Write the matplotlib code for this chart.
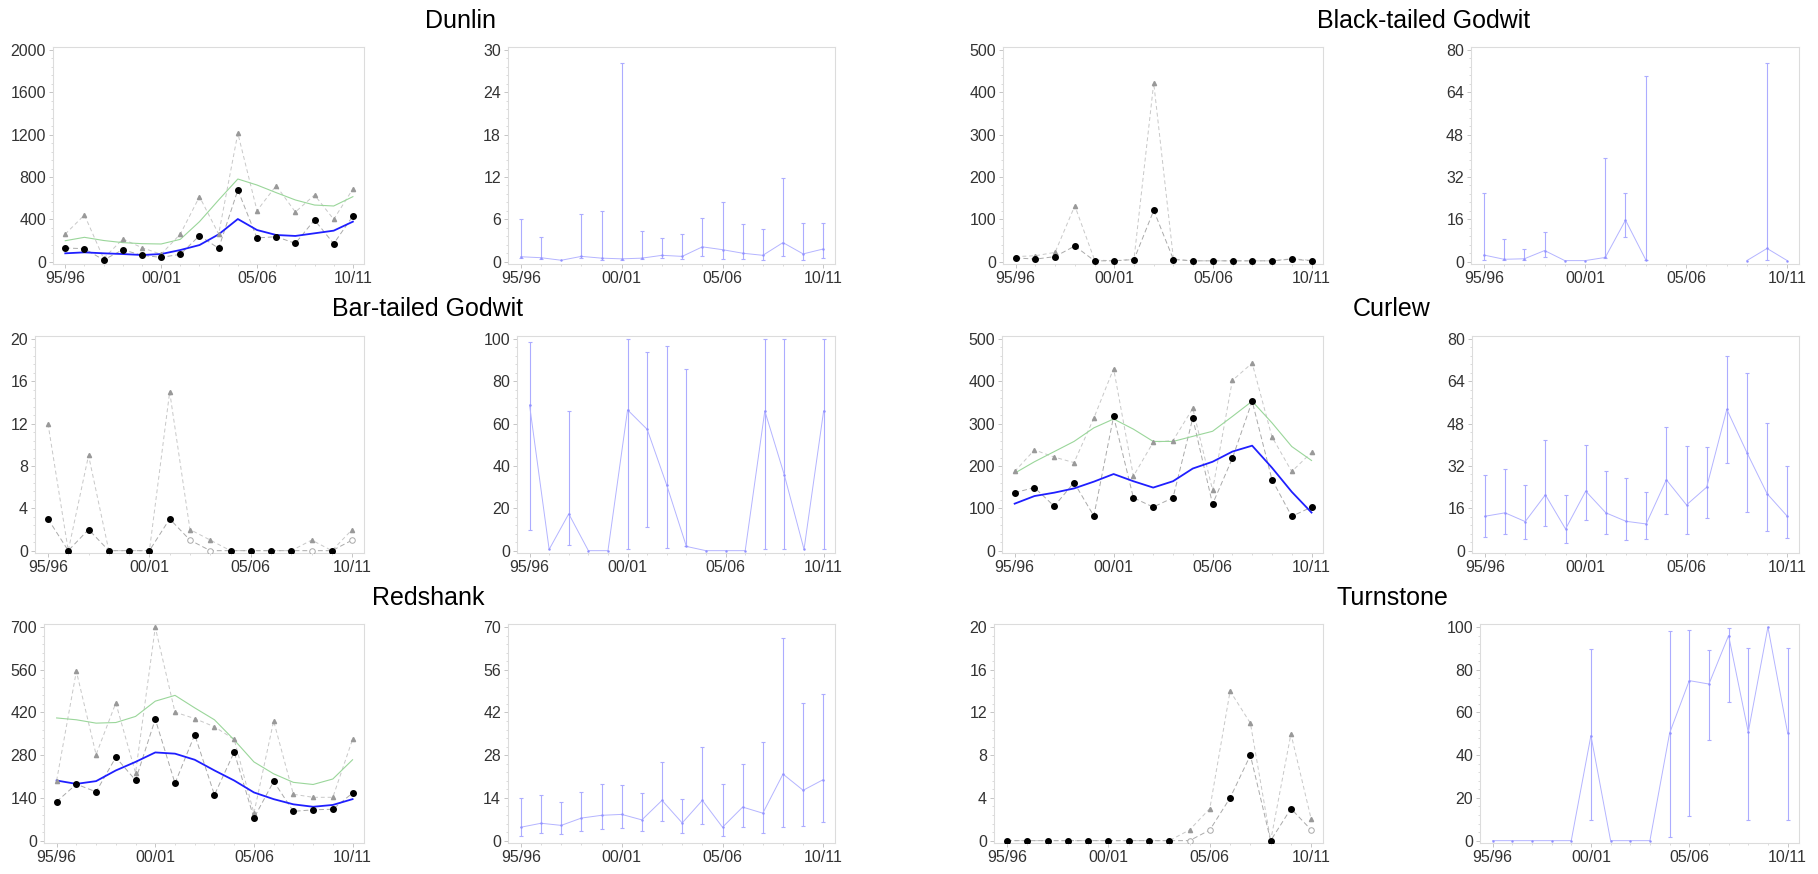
import matplotlib.pyplot as plt
import numpy as np
from matplotlib.ticker import MultipleLocator, AutoMinorLocator

plt.rcParams['font.family'] = ['Liberation Sans', 'DejaVu Sans']

nan = np.nan
seasons = np.arange(16)
season_ticks = [0, 5, 10, 15]
season_labels = ['95/96', '00/01', '05/06', '10/11']

# ---- Dunlin
dunlin_count = [129, 123, 16, 113, 60, 41, 69, 246, 126, 677, 224, 236, 173, 394, 170, 431]
dunlin_max = [261, 441, 30, 214, 132, 70, 261, 614, 261, 1213, 482, 718, 469, 630, 400, 687]
dunlin_max_smooth = [198, 230, 200, 180, 170, 167, 211, 378, 583, 781, 724, 652, 583, 535, 526, 614]
dunlin_count_smooth = [79, 88, 79, 72, 63, 72, 110, 157, 258, 403, 299, 252, 243, 268, 293, 378]
dunlin_pct = [0.7, 0.56, 0.2, 0.75, 0.5, 0.4, 0.5, 0.9, 0.75, 2.1, 1.7, 1.2, 0.9, 2.7, 1.1, 1.8]
dunlin_pct_lo = [0.5, 0.4, nan, 0.5, 0.3, 0.3, 0.4, 0.5, 0.4, 0.8, 0.4, 0.4, 0.3, 0.8, 0.3, 0.5]
dunlin_pct_hi = [6.1, 3.5, nan, 6.8, 7.2, 28.1, 4.3, 3.4, 3.9, 6.25, 8.5, 5.3, 4.65, 11.9, 5.5, 5.5]

# ---- Black-tailed Godwit
btgodwit_count = [9, 6, 12, 37, 2, 2, 5, 121, 5, 2, 2, 2, 2, 2, 6, 2]
btgodwit_max = [12, 14, 22, 132, 4, 2, 6, 422, 6, 2, 2, 2, 2, 2, 7, 3]
btgodwit_pct = [2.5, 0.9, 1.1, 4.2, 0.4, 0.4, 1.6, 15.7, 0.75, nan, nan, nan, nan, 0.4, 5.0, 0.4]
btgodwit_pct_lo = [0.6, 0.6, 0.8, 1.8, nan, nan, 1.2, 9.3, 0.6, nan, nan, nan, nan, nan, 0.6, nan]
btgodwit_pct_hi = [25.8, 8.4, 4.9, 11.3, nan, nan, 39.0, 25.8, 70.0, nan, nan, nan, nan, nan, 75.0, nan]

# ---- Bar-tailed Godwit
bargodwit_count = [3, 0, 2, 0, 0, 0, 3, 1, 0, 0, 0, 0, 0, 0, 0, 1]
bargodwit_open = [7, 8, 13, 15]
bargodwit_max = [12, 0, 9, 0, 0, 0, 15, 2, 1, 0, 0, 0, 0, 1, 0, 2]
bargodwit_pct = [68.8, 0.6, 17.4, 0, 0, 66.5, 57.3, 30.9, 2.0, 0, 0, 0, 66.0, 35.6, 0.6, 66.0]
bargodwit_pct_lo = [9.8, nan, 2.8, nan, nan, 0.6, 11.4, 1.3, 2.0, nan, nan, nan, 0.6, 0.6, nan, 0.6]
bargodwit_pct_hi = [98.4, nan, 66.0, nan, nan, 100, 93.7, 96.5, 86.0, nan, nan, nan, 100, 100, nan, 100]

# ---- Curlew
curlew_count = [137, 149, 105, 161, 82, 317, 125, 103, 125, 313, 110, 218, 353, 168, 81, 103]
curlew_max = [187, 238, 221, 208, 313, 430, 176, 256, 260, 336, 143, 402, 443, 269, 187, 232]
curlew_max_smooth = [183, 210, 234, 258, 290, 311, 287, 258, 258, 270, 282, 317, 353, 302, 246, 213]
curlew_count_smooth = [111, 129, 137, 147, 163, 181, 164, 149, 164, 194, 210, 234, 248, 196, 139, 90]
curlew_pct = [13, 14.3, 11, 21.1, 8.2, 22.5, 14.3, 11.1, 10.1, 26.8, 17.3, 24, 53.4, 37, 21.5, 13]
curlew_pct_lo = [5.3, 6.2, 4.3, 9.2, 2.9, 11.6, 6.2, 3.9, 4.4, 13.9, 6.3, 12.3, 33.2, 14.8, 7.3, 4.8]
curlew_pct_hi = [28.5, 30.8, 24.8, 42, 21.1, 40.1, 30.1, 27.5, 22, 46.6, 39.6, 39, 73.7, 67.1, 48.4, 31.9]

# ---- Redshank
redshank_count = [128, 185, 160, 273, 198, 398, 188, 347, 150, 290, 74, 194, 96, 101, 103, 156]
redshank_max = [197, 555, 282, 451, 222, 699, 421, 400, 373, 332, 90, 392, 152, 142, 142, 332]
redshank_max_smooth = [402, 396, 385, 387, 407, 457, 476, 435, 396, 330, 258, 219, 191, 184, 202, 265]
redshank_count_smooth = [197, 186, 195, 230, 258, 289, 285, 265, 230, 197, 158, 136, 119, 111, 117, 136]
redshank_pct = [4.4, 5.7, 5.0, 7.4, 8.3, 8.6, 6.8, 13.2, 5.8, 13.2, 4.4, 11, 9, 21.8, 16.5, 20]
redshank_pct_lo = [1.5, 2.4, 2.2, 3.3, 3.9, 4.1, 3.0, 6.6, 2.4, 5.3, 1.4, 4.4, 2.4, 4.4, 4.7, 6.0]
redshank_pct_hi = [14, 14.9, 12.6, 16.1, 18.7, 18.2, 15.7, 25.8, 13.8, 30.6, 18.5, 25, 32.3, 66.4, 45.2, 48]

# ---- Turnstone
turnstone_count = [0, 0, 0, 0, 0, 0, 0, 0, 0, 0, 1, 4, 8, 0, 3, 1]
turnstone_open = [9, 10, 15]
turnstone_max = [0, 0, 0, 0, 0, 0, 0, 0, 0, 1, 3, 14, 11, 0, 10, 2]
turnstone_pct = [0, 0, 0, 0, 0, 49.2, 0, 0, 0, 50.3, 74.9, 73.3, 96, 50.8, 100, 50.5]
turnstone_pct_lo = [nan, nan, nan, nan, nan, 9.8, nan, nan, nan, 1.9, 11.4, 47.1, 65, 9.8, nan, 9.8]
turnstone_pct_hi = [nan, nan, nan, nan, nan, 89.7, nan, nan, nan, 98, 98.4, 89.4, 99.7, 90, nan, 90]

W, H = 1818, 874
fig = plt.figure(figsize=(W / 100, H / 100), dpi=100)


def make_ax(left, right, top, bottom):
    return fig.add_axes([left / W, 1 - bottom / H, (right - left) / W, (bottom - top) / H])


def style(ax, ymax, ystep):
    ax.set_xlim(-0.64, 15.58)
    ax.set_ylim(-0.011 * ymax, 1.014 * ymax)
    ax.set_xticks(season_ticks)
    ax.set_xticklabels(season_labels)
    ax.xaxis.set_minor_locator(MultipleLocator(1))
    ax.yaxis.set_major_locator(MultipleLocator(ystep))
    ax.yaxis.set_minor_locator(AutoMinorLocator(5))
    for s in ax.spines.values():
        s.set_color('#dcdcdc')
        s.set_linewidth(0.8)
    ax.tick_params(which='major', length=3, width=0.6, color='#bbbbbb',
                   labelsize=11.5, labelcolor='#333333', pad=2)
    ax.tick_params(which='minor', length=1.5, width=0.5, color='#cccccc')


def counts_panel(ax, count, mx, ymax, ystep, mx_smooth=None, cnt_smooth=None, open_idx=()):
    ax.plot(seasons, mx, color='#c8c8c8', lw=0.7, ls=(0, (4, 3)), zorder=2)
    ax.plot(seasons, count, color='#aaaaaa', lw=0.7, ls=(0, (5, 3)), zorder=2)
    if mx_smooth is not None:
        ax.plot(seasons, mx_smooth, color='#9ad69a', lw=0.8, zorder=3)
    if cnt_smooth is not None:
        ax.plot(seasons, cnt_smooth, color='#1f1fff', lw=1.3, zorder=3)
    ax.plot(seasons, mx, ls='none', marker='^', ms=3, color='#999999', zorder=4)
    filled = [i for i in seasons if i not in open_idx]
    c = np.array(count, dtype=float)
    ax.plot(seasons[filled], c[filled], ls='none', marker='o', ms=4, color='black', zorder=5)
    if open_idx:
        oi = list(open_idx)
        ax.plot(seasons[oi], c[oi], ls='none', marker='o', ms=4, mfc='white',
                mec='#aaaaaa', mew=0.7, zorder=5)
    style(ax, ymax, ystep)


def pct_panel(ax, pct, lo, hi, ymax, ystep):
    p = np.array(pct, dtype=float)
    lo = np.array(lo, dtype=float)
    hi = np.array(hi, dtype=float)
    ok = ~np.isnan(lo)
    ax.vlines(seasons[ok], lo[ok], hi[ok], color='#acacff', lw=0.8, zorder=2)
    ax.plot(seasons[ok], lo[ok], ls='none', marker='_', ms=2.5, color='#acacff', mew=0.8)
    ax.plot(seasons[ok], hi[ok], ls='none', marker='_', ms=2.5, color='#acacff', mew=0.8)
    ax.plot(seasons, p, color='#b4b4ff', lw=0.7, zorder=3)
    ax.plot(seasons, p, ls='none', marker='.', ms=1.5, color='#9090ff', zorder=3)
    style(ax, ymax, ystep)


# row 1
ax = make_ax(53, 364, 47, 264)
counts_panel(ax, dunlin_count, dunlin_max, 2000, 400, dunlin_max_smooth, dunlin_count_smooth)
ax = make_ax(508, 835, 47, 264)
pct_panel(ax, dunlin_pct, dunlin_pct_lo, dunlin_pct_hi, 30, 6)
ax = make_ax(1003, 1323, 47, 264)
counts_panel(ax, btgodwit_count, btgodwit_max, 500, 100)
ax = make_ax(1471, 1799, 47, 264)
pct_panel(ax, btgodwit_pct, btgodwit_pct_lo, btgodwit_pct_hi, 80, 16)

# row 2
ax = make_ax(35, 364, 336, 553)
counts_panel(ax, bargodwit_count, bargodwit_max, 20, 4, open_idx=bargodwit_open)
ax = make_ax(517, 835, 336, 553)
pct_panel(ax, bargodwit_pct, bargodwit_pct_lo, bargodwit_pct_hi, 100, 20)
ax = make_ax(1002, 1323, 336, 553)
counts_panel(ax, curlew_count, curlew_max, 500, 100, curlew_max_smooth, curlew_count_smooth)
ax = make_ax(1472, 1799, 336, 553)
pct_panel(ax, curlew_pct, curlew_pct_lo, curlew_pct_hi, 80, 16)

# row 3
ax = make_ax(44, 364, 624, 843)
counts_panel(ax, redshank_count, redshank_max, 700, 140, redshank_max_smooth, redshank_count_smooth)
ax = make_ax(508, 835, 624, 843)
pct_panel(ax, redshank_pct, redshank_pct_lo, redshank_pct_hi, 70, 14)
ax = make_ax(994, 1323, 624, 843)
counts_panel(ax, turnstone_count, turnstone_max, 20, 4, open_idx=turnstone_open)
ax = make_ax(1480, 1799, 624, 843)
pct_panel(ax, turnstone_pct, turnstone_pct_lo, turnstone_pct_hi, 100, 20)

titles = [('Dunlin', 461, 21), ('Black-tailed Godwit', 1424, 21),
          ('Bar-tailed Godwit', 427, 309), ('Curlew', 1392, 309),
          ('Redshank', 428, 598), ('Turnstone', 1392, 598)]
for name, x, y in titles:
    fig.text(x / W, 1 - y / H, name, ha='center', va='center', fontsize=18, color='black')

fig.savefig('out.png', dpi=100)
